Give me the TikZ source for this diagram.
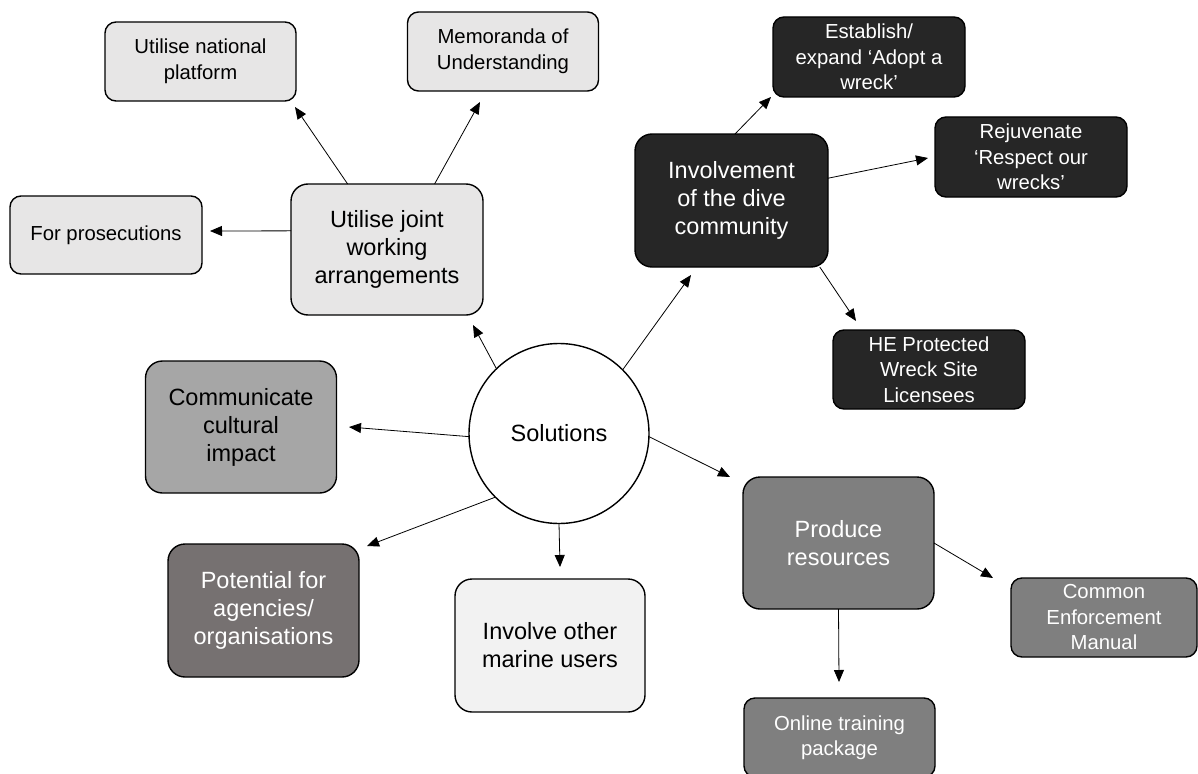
\documentclass[tikz,border=0pt]{standalone}
\usepackage{fontspec}
\setmainfont{Liberation Sans}
\usetikzlibrary{arrows.meta}
\definecolor{cLight}{HTML}{E7E6E6}
\definecolor{cPale}{HTML}{F2F2F2}
\definecolor{cMid}{HTML}{A6A6A6}
\definecolor{cWarm}{HTML}{767171}
\definecolor{cGrey}{HTML}{7F7F7F}
\definecolor{cDark}{HTML}{262626}
\begin{document}
\begin{tikzpicture}[x=1pt,y=-1pt,
  box/.style={draw=black, line width=1.4pt, align=center, inner sep=0pt, outer sep=0pt},
  bigbox/.style={box, rounded corners=17pt, minimum width=192pt, minimum height=131pt,
     font=\fontsize{23.5}{28}\selectfont},
  smallbox/.style={box, rounded corners=11pt, minimum width=191pt, minimum height=79pt,
     font=\fontsize{20.3}{25.5}\selectfont},
  arr/.style={line width=0.8pt, -{Triangle[length=12pt,width=10pt]}}
]
\useasboundingbox (0,0) rectangle (1198,773);

% centre
\node[box, circle, line width=1.4pt, minimum size=180pt, fill=white,
      font=\fontsize{23.5}{28}\selectfont] (sol) at (559,433.5) {Solutions};

% joint working group
\node[bigbox, fill=cLight] (joint) at (387,249.5) {Utilise joint\\working\\arrangements};
\node[smallbox, fill=cLight] (nat) at (200.5,61.5) {Utilise national\\platform};
\node[smallbox, fill=cLight] (mou) at (503,51.5) {Memoranda of\\Understanding};
\node[smallbox, fill=cLight, minimum width=192pt, minimum height=78pt] (pros) at (106,235) {For prosecutions};

% dive community group
\node[bigbox, fill=cDark, text=white, minimum width=193pt, minimum height=133pt] (dive) at (731.5,200.5) {Involvement\\of the dive\\community};
\node[smallbox, fill=cDark, text=white, minimum width=192pt, minimum height=80pt] (adopt) at (869,57) {Establish/\\expand ‘Adopt a\\wreck’};
\node[smallbox, fill=cDark, text=white, minimum width=192pt, minimum height=80pt] (resp) at (1031,157) {Rejuvenate\\‘Respect our\\wrecks’};
\node[smallbox, fill=cDark, text=white, minimum width=192pt, minimum height=79pt] (he) at (929,369.5) {HE Protected\\Wreck Site\\Licensees};

% other solutions
\node[bigbox, fill=cMid, minimum width=191pt, minimum height=132pt] (comm) at (241,427) {Communicate\\cultural\\impact};
\node[bigbox, fill=cWarm, text=white, minimum width=191pt, minimum height=133pt] (pot) at (263.5,610.5) {Potential for\\agencies/\\organisations};
\node[bigbox, fill=cPale, minimum width=190pt, minimum height=133pt] (inv) at (550,645.5) {Involve other\\marine users};

% resources group
\node[bigbox, fill=cGrey, text=white, minimum width=191pt, minimum height=132pt] (prod) at (838.5,543) {Produce\\resources};
\node[smallbox, fill=cGrey, text=white, minimum width=186pt, minimum height=79pt] (cem) at (1104,617.5) {Common\\Enforcement\\Manual};
\node[smallbox, fill=cGrey, text=white, minimum width=191pt, minimum height=79pt] (otp) at (839.5,737.5) {Online training\\package};

% arrow tips
\coordinate (tJoint) at (473,325);
\coordinate (tDive) at (691,275);
\coordinate (tComm) at (349,427);
\coordinate (tPot) at (367,546);
\coordinate (tInv) at (560,567);
\coordinate (tProd) at (730,477);
\coordinate (tNat) at (295,107);
\coordinate (tMou) at (480,102);
\coordinate (tPros) at (210,231);
\coordinate (tAdopt) at (771,97);
\coordinate (tResp) at (928,158);
\coordinate (tHe) at (856,321);
\coordinate (tCem) at (993,578);
\coordinate (tOtp) at (839,682);

% connectors
\draw[arr] (sol.134) -- (tJoint);
\draw[arr] (sol.45) -- (tDive);
\draw[arr] (sol.182) -- (tComm);
\draw[arr] (sol.225) -- (tPot);
\draw[arr] (sol.270) -- (tInv);
\draw[arr] (sol.-2) -- (tProd);
\draw[arr] (joint.121.4) -- (tNat);
\draw[arr] (joint.54.3) -- (tMou);
\draw[arr] (joint.169.7) -- (tPros);
\draw[arr] (dive.87.8) -- (tAdopt);
\draw[arr] (dive.13.7) -- (tResp);
\draw[arr] (dive.-37.2) -- (tHe);
\draw[arr] (prod.-0.6) -- (tCem);
\draw[arr] (prod.south) -- (tOtp);
\end{tikzpicture}
\end{document}
